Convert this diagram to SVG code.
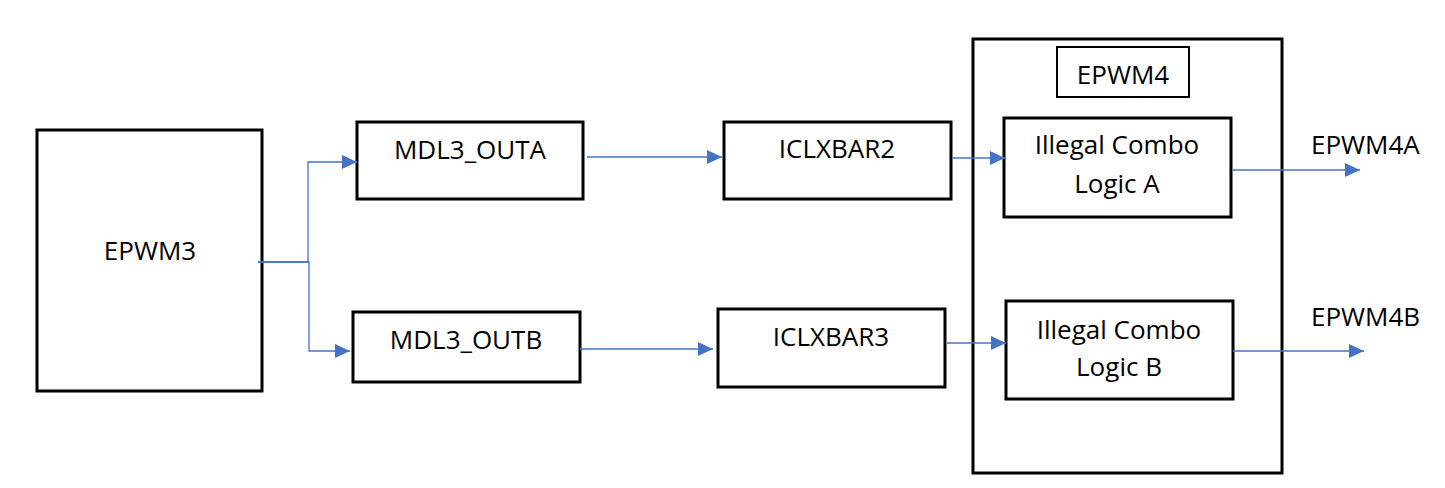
<svg xmlns="http://www.w3.org/2000/svg" width="1445" height="488" viewBox="0 0 1445 488">
<style>
.box{fill:#fff;stroke:#000;stroke-width:3}
.thin{fill:#fff;stroke:#000;stroke-width:2}
.t{font-family:"Open Sans","Noto Sans",sans-serif;font-size:26px;fill:#000;text-anchor:middle}
.ts{font-family:"Open Sans","Noto Sans",sans-serif;font-size:26px;fill:#000}
.c{fill:none;stroke:#4472C4;stroke-width:1.3}
</style>
<defs>
<marker id="ah" markerUnits="userSpaceOnUse" markerWidth="16" markerHeight="14" refX="15" refY="7" orient="auto">
<path d="M0,0 L15,7 L0,14 Z" fill="#4472C4"/>
</marker>
</defs>
<rect width="1445" height="488" fill="#fff"/>
<g id="epwm4-container">
<rect class="box" x="973" y="39" width="309" height="434"/>
</g>
<g id="epwm3"><rect class="box" x="37" y="130" width="225" height="261"/><text class="t" x="150" y="260">EPWM3</text></g>
<g id="mdl3-outa"><rect class="box" x="357" y="122" width="226" height="77"/><text class="t" x="470" y="159">MDL3_OUTA</text></g>
<g id="mdl3-outb"><rect class="box" x="353" y="312" width="227" height="70"/><text class="t" x="466" y="349">MDL3_OUTB</text></g>
<g id="iclxbar2"><rect class="box" x="724" y="122" width="227" height="77"/><text class="t" x="837" y="158">ICLXBAR2</text></g>
<g id="iclxbar3"><rect class="box" x="718" y="309" width="227" height="78"/><text class="t" x="831" y="346">ICLXBAR3</text></g>
<g id="epwm4-label"><rect class="thin" x="1057" y="47" width="132" height="50"/><text class="t" x="1123" y="84">EPWM4</text></g>
<g id="logic-a"><rect class="box" x="1004" y="118" width="227" height="99"/><text class="t" x="1117" y="154">Illegal Combo</text><text class="t" x="1117" y="193">Logic A</text></g>
<g id="logic-b"><rect class="box" x="1006" y="301" width="227" height="98"/><text class="t" x="1119" y="339">Illegal Combo</text><text class="t" x="1119" y="376">Logic B</text></g>
<g id="out-a"><text class="ts" x="1311" y="154">EPWM4A</text></g>
<g id="out-b"><text class="ts" x="1311" y="326">EPWM4B</text></g>
<g id="connectors">
<path class="c" d="M258,262 H308 V162 H357" marker-end="url(#ah)"/>
<path class="c" d="M258,262 H309 V351 H350" marker-end="url(#ah)"/>
<path class="c" d="M587,157 H722" marker-end="url(#ah)"/>
<path class="c" d="M580,349 H713" marker-end="url(#ah)"/>
<path class="c" d="M952,158 H1005" marker-end="url(#ah)"/>
<path class="c" d="M947,343 H1006" marker-end="url(#ah)"/>
<path class="c" d="M1233,170 H1360" marker-end="url(#ah)"/>
<path class="c" d="M1233,351 H1364" marker-end="url(#ah)"/>
</g>
</svg>
